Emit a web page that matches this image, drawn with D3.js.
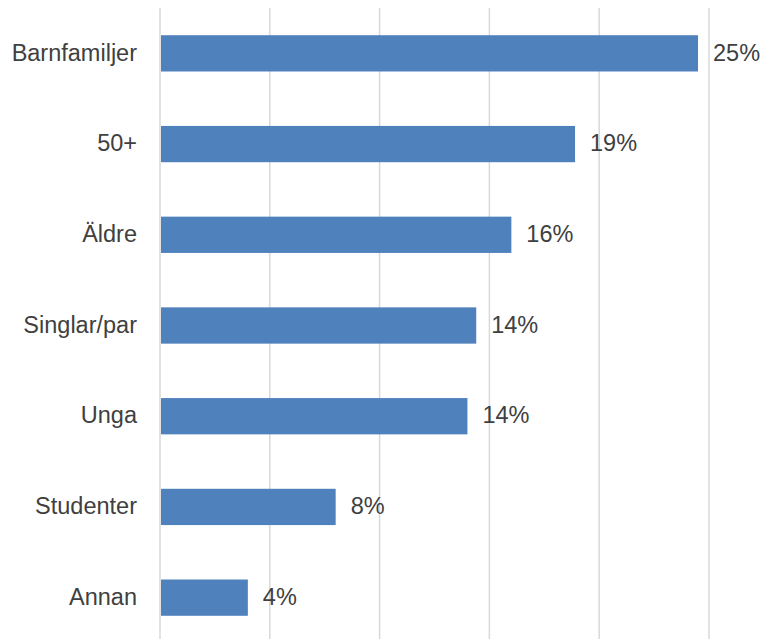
<!DOCTYPE html>
<html>
<head>
<meta charset="utf-8">
<script src="https://cdn.jsdelivr.net/npm/d3@7"></script>
<style>
  html, body { margin: 0; padding: 0; background: #fff; }
  svg { display: block; }
</style>
</head>
<body>
<svg id="chart" width="765" height="639"></svg>
<script>
// Target groups and their share (percent)
const categories = ["Barnfamiljer", "50+", "Äldre", "Singlar/par", "Unga", "Studenter", "Annan"];
const shares = [24.5, 18.9, 16.0, 14.4, 14.0, 8.0, 4.0];
const gridTicks = [0, 5, 10, 15, 20, 25];

const svg = d3.select("#chart");
const margin = { top: 8, left: 160 };
const plotRight = 709;
const plotBottom = 643;
const fontFamily = "Liberation Sans, Arial, sans-serif";
const fontSize = 23.5;

const x = d3.scaleLinear().domain([0, 25]).range([margin.left, plotRight]);
const y = d3.scaleBand().domain(categories).range([margin.top, plotBottom]).paddingInner(0.6).paddingOuter(0.3);

// Vertical gridlines
svg.append("g")
  .selectAll("line")
  .data(gridTicks)
  .join("line")
  .attr("x1", d => x(d)).attr("x2", d => x(d))
  .attr("y1", margin.top).attr("y2", plotBottom)
  .attr("stroke", "#d9d9d9")
  .attr("stroke-width", 1.5);

// Bars
svg.append("g")
  .selectAll("rect")
  .data(categories)
  .join("rect")
  .attr("x", x(0) + 1)
  .attr("y", d => y(d))
  .attr("width", (d, i) => x(shares[i]) - x(0) - 1)
  .attr("height", y.bandwidth())
  .attr("fill", "#4f81bd");

function label(sel) {
  sel.attr("font-family", fontFamily)
    .attr("font-size", fontSize)
    .attr("fill", "#404040")
    .attr("dy", "0.31em");
}

// Value labels
svg.append("g")
  .selectAll("text")
  .data(categories)
  .join("text")
  .attr("x", (d, i) => x(shares[i]) + 15)
  .attr("y", d => y(d) + y.bandwidth() / 2)
  .call(label)
  .text((d, i) => Math.round(shares[i]) + "%");

// Category labels
svg.append("g")
  .selectAll("text")
  .data(categories)
  .join("text")
  .attr("x", margin.left - 23)
  .attr("y", d => y(d) + y.bandwidth() / 2)
  .attr("text-anchor", "end")
  .call(label)
  .text(d => d);
</script>
</body>
</html>
